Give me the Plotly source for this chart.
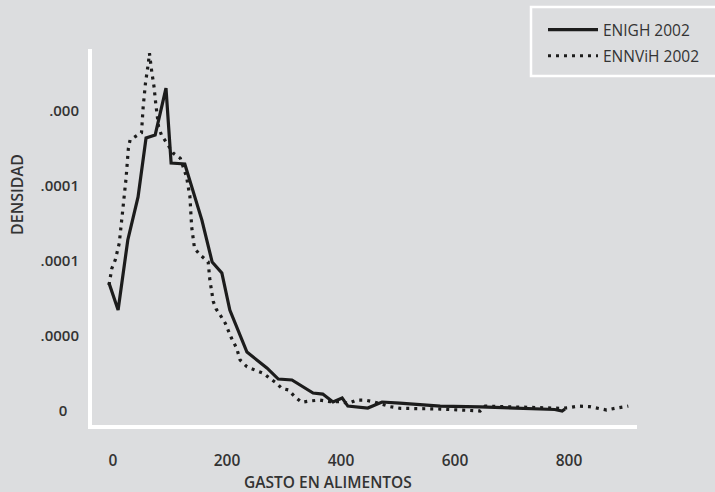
import plotly.graph_objects as go

# ---- data ----
enigh_x = [-7, 9, 26, 44, 58, 74, 93, 102, 126, 140, 156, 174, 191, 205, 235, 270, 290, 314,
           351, 368, 386, 402, 412, 447, 472, 503, 574, 644, 714, 775, 788, 793]
enigh_y = [8.53e-5, 6.73e-5, 1.14e-4, 1.427e-4, 1.82e-4, 1.84e-4, 2.153e-4, 1.653e-4, 1.647e-4,
           1.473e-4, 1.273e-4, 9.93e-5, 9.2e-5, 6.73e-5, 3.93e-5, 2.87e-5, 2.13e-5, 2.07e-5,
           1.2e-5, 1.13e-5, 6.0e-6, 8.7e-6, 3.3e-6, 2.0e-6, 6.0e-6, 5.3e-6, 3.3e-6, 2.7e-6,
           2.0e-6, 1.0e-6, 0.0, 1.3e-6]

ennvih_x = [-7, -2, 4, 11, 15, 19, 23, 27, 30, 39, 50, 53, 57, 62, 64, 68, 72, 75, 80, 85, 91,
            106, 118, 129, 135, 138, 143, 153, 167, 170, 176, 181, 188, 197, 208, 217, 223, 235,
            249, 264, 275, 287, 296, 308, 319, 331, 346, 363, 381, 398, 413, 428, 442, 457, 486,
            504, 574, 644, 653, 714, 784, 799, 816, 836, 851, 866, 881, 895, 904]
ennvih_y = [8.4e-5, 9.51e-5, 1.007e-4, 1.118e-4, 1.262e-4, 1.387e-4, 1.553e-4, 1.751e-4,
            1.807e-4, 1.829e-4, 1.855e-4, 2.029e-4, 2.185e-4, 2.318e-4, 2.385e-4, 2.262e-4,
            2.162e-4, 2.051e-4, 1.895e-4, 1.84e-4, 1.807e-4, 1.718e-4, 1.685e-4, 1.562e-4,
            1.429e-4, 1.229e-4, 1.085e-4, 1.04e-4, 9.95e-5, 8.73e-5, 7.29e-5, 6.8e-5, 6.4e-5,
            5.85e-5, 4.85e-5, 4.18e-5, 3.4e-5, 2.95e-5, 2.73e-5, 2.51e-5, 2.18e-5, 1.85e-5,
            1.51e-5, 1.4e-5, 9.5e-6, 5.8e-6, 6.7e-6, 7.3e-6, 6.2e-6, 6.2e-6, 5.1e-6, 7.3e-6,
            7.3e-6, 6.2e-6, 2.9e-6, 1.8e-6, 1.3e-6, 0.0, 3.3e-6, 2.5e-6, 1.8e-6, 2.2e-6, 3.3e-6,
            2.9e-6, 1.8e-6, 6.7e-7, 1.8e-6, 2.9e-6, 3.3e-6]

x_tickvals = [0, 200, 400, 600, 800]
x_ticktext = ["0", "200", "400", "600", "800"]
y_tickvals = [0, 5e-5, 1e-4, 1.5e-4, 2e-4]
y_ticktext = ["0\u00a0\u00a0\u00a0", ".0000", ".0001", ".0001", ".000"]

series_names = ["ENIGH 2002", "ENNViH 2002"]
x_title = "GASTO EN ALIMENTOS"
y_title = "DENSIDAD"

BG = "#dcdddf"
INK = "#1c1c1c"
TXT = "#333333"
FONT = "Open Sans"

fig = go.Figure()
fig.add_trace(go.Scatter(
    x=enigh_x, y=enigh_y, mode="lines", name=series_names[0], legendgroup="a",
    line=dict(color=INK, width=3.2, dash="solid"),
))
fig.add_trace(go.Scatter(
    x=ennvih_x, y=ennvih_y, mode="lines", name=series_names[1], legendgroup="b",
    line=dict(color=INK, width=3.2, dash="3px,5px"),
))

W, H = 715, 492
L, R, T, B = 92, 78, 49, 67
pw, ph = W - L - R, H - T - B

def px_x(p):
    return (p - L) / pw

def px_y(p):
    return (H - B - p) / ph

fig.update_layout(
    width=W, height=H,
    margin=dict(l=L, r=R, t=T, b=B, pad=0, autoexpand=False),
    paper_bgcolor=BG, plot_bgcolor=BG,
    font=dict(family=FONT, color=TXT, size=14),
    showlegend=True,
    legend=dict(
        x=px_x(543), y=px_y(13), xanchor="left", yanchor="top",
        bgcolor="rgba(0,0,0,0)", borderwidth=0,
        itemwidth=50, traceorder="grouped", tracegroupgap=3,
        font=dict(family=FONT, size=15.5, color=TXT),
    ),
    xaxis=dict(
        range=[-36.8, 919.3], showgrid=False, zeroline=False,
        showline=True, linecolor="white", linewidth=4,
        tickvals=x_tickvals, ticktext=x_ticktext, ticks="",
        ticklabelstandoff=18,
        tickfont=dict(family=FONT, size=15.5, color=TXT, weight=600),
    ),
    yaxis=dict(
        range=[-9.33e-6, 2.4133e-4], showgrid=False, zeroline=False,
        showline=True, linecolor="white", linewidth=4,
        tickvals=y_tickvals, ticktext=y_ticktext, ticks="",
        ticklabelstandoff=6,
        tickfont=dict(family=FONT, size=15, color=TXT, weight=600),
    ),
    shapes=[dict(
        type="rect", xref="paper", yref="paper",
        x0=px_x(531), x1=px_x(800), y0=px_y(76), y1=px_y(7),
        line=dict(color="white", width=2.5), fillcolor="rgba(0,0,0,0)", layer="below",
    )],
    annotations=[
        dict(text=x_title, xref="paper", yref="paper", x=px_x(327.5), y=px_y(482),
             xanchor="center", yanchor="middle", showarrow=False,
             font=dict(family=FONT, size=15.5, color=TXT, weight=600)),
        dict(text=y_title, xref="paper", yref="paper", x=px_x(17), y=px_y(195),
             xanchor="center", yanchor="middle", showarrow=False, textangle=-90,
             font=dict(family=FONT, size=16, color=TXT, weight=600)),
    ],
)

fig.write_html("out.html")
